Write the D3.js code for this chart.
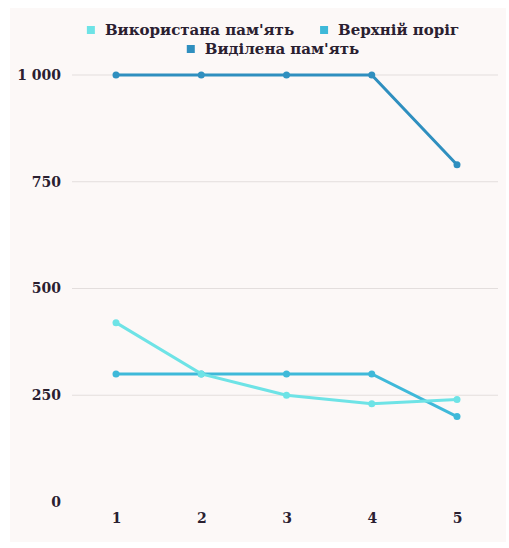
<!DOCTYPE html>
<html>
<head>
<meta charset="utf-8">
<script src="https://cdn.jsdelivr.net/npm/d3@7"></script>
<style>
  body { margin: 0; background: #fff; }
  svg { display: block; }
</style>
</head>
<body>
<div class="chart"></div>
<script>
"use strict";
(function(){

var categories = [1, 2, 3, 4, 5];
var seriesNames = ["Використана пам'ять", 'Верхній поріг', "Виділена пам'ять"];
var usedMemory = [420, 300, 250, 230, 240];
var threshold = [300, 300, 300, 300, 200];
var allocated = [1000, 1000, 1000, 1000, 790];
var yTicks = [0, 250, 500, 750, 1000];
var colors = ['#6ee3e6', '#3fb9d9', '#2f8fbf'];

var width = 509;
var height = 548;
var font = "'DejaVu Serif', 'Liberation Serif', serif";

var svg = d3.select('.chart')
            .append('svg')
            .attr('width', width)
            .attr('height', height);

svg.append('rect')
   .attr('x', 10).attr('y', 8)
   .attr('width', 496).attr('height', 534)
   .attr('fill', '#fcf8f7');

var x = d3.scalePoint().domain(categories).range([116, 457]);
var y = d3.scaleLinear().domain([0, 1000]).range([502, 75]);

// gridlines
svg.append('g')
   .selectAll('line')
   .data(yTicks.filter(function(d){ return d > 0; }))
   .enter().append('line')
   .attr('x1', 72).attr('x2', 498)
   .attr('y1', function(d){ return y(d); })
   .attr('y2', function(d){ return y(d); })
   .attr('stroke', '#e3dedd')
   .attr('stroke-width', 1);

// y axis
var yAxis = svg.append('g')
   .attr('transform', 'translate(61,0)')
   .call(d3.axisLeft(y).tickValues(yTicks).tickSize(0).tickPadding(0)
           .tickFormat(function(d){ return d === 1000 ? '1 000' : d; }));
yAxis.select('.domain').remove();
yAxis.selectAll('text')
     .attr('font-family', font).attr('font-size', 14).attr('font-weight', 'bold')
     .attr('fill', '#2a2030');

// x axis
var xAxis = svg.append('g')
   .attr('transform', 'translate(0,513)')
   .call(d3.axisBottom(x).tickSize(0).tickPadding(0));
xAxis.select('.domain').remove();
xAxis.selectAll('text')
     .attr('font-family', font).attr('font-size', 14).attr('font-weight', 'bold')
     .attr('fill', '#2a2030');

var series = [usedMemory, threshold, allocated];
var line = d3.line()
             .x(function(d, i){ return x(categories[i]); })
             .y(function(d){ return y(d); });

// allocated first, then threshold, then used on top
[2, 1, 0].forEach(function(s){
  var g = svg.append('g');
  g.append('path')
   .datum(series[s])
   .attr('d', line)
   .attr('fill', 'none')
   .attr('stroke', colors[s])
   .attr('stroke-width', 3);
  g.selectAll('circle')
   .data(series[s])
   .enter().append('circle')
   .attr('cx', function(d, i){ return x(categories[i]); })
   .attr('cy', function(d){ return y(d); })
   .attr('r', 3.5)
   .attr('fill', colors[s]);
});

// legend, two rows centred on the plot
var legendRows = [[0, 1], [2]];
var centre = 273;
legendRows.forEach(function(row, r){
  var ly = 30 + r * 19;
  var g = svg.append('g');
  var cursor = 0;
  row.forEach(function(i, k){
    if (k > 0) cursor += 26;
    g.append('rect')
     .attr('x', cursor).attr('y', ly - 4)
     .attr('width', 8).attr('height', 8)
     .attr('fill', colors[i]);
    var t = g.append('text')
     .attr('x', cursor + 18).attr('y', ly + 5)
     .attr('font-family', font).attr('font-size', 15).attr('font-weight', 'bold')
     .attr('fill', '#2a2030')
     .text(seriesNames[i]);
    cursor += 18 + t.node().getComputedTextLength();
  });
  g.attr('transform', 'translate(' + (centre - cursor / 2) + ',0)');
});

})();
</script>
</body>
</html>
